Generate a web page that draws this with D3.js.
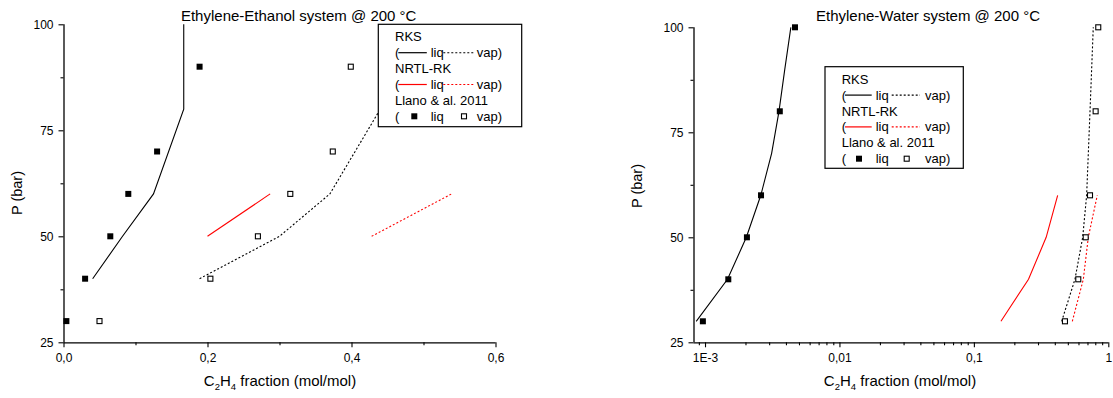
<!DOCTYPE html>
<html>
<head>
<meta charset="utf-8">
<script src="https://cdn.jsdelivr.net/npm/d3@7"></script>
<style>
  html, body { margin: 0; padding: 0; background: #fff; }
  svg { display: block; font-family: "Liberation Sans", Arial, sans-serif; }
</style>
</head>
<body>
<svg id="chart" width="1113" height="398"></svg>
<script>
// ---------- Data: Ethylene-Ethanol @ 200 °C ----------
const eeLiqExpX = [0.004, 0.030, 0.065, 0.090, 0.130, 0.189];
const eeLiqExpP = [30, 40, 50, 60, 70, 90];
const eeVapExpX = [0.050, 0.204, 0.270, 0.315, 0.374, 0.399];
const eeVapExpP = [30, 40, 50, 60, 70, 90];
const eeRksLiqX = [0.0405, 0.082, 0.125, 0.167, 0.167];
const eeRksLiqP = [40, 50, 60, 80, 100];
const eeRksVapX = [0.189, 0.300, 0.370, 0.440];
const eeRksVapP = [40, 50, 60, 80];
const eeNrtlLiqX = [0.200, 0.287];
const eeNrtlLiqP = [50, 60];
const eeNrtlVapX = [0.428, 0.539];
const eeNrtlVapP = [50, 60];

// ---------- Data: Ethylene-Water @ 200 °C ----------
const ewLiqExpX = [0.000964, 0.00149, 0.00205, 0.00261, 0.00360, 0.00467];
const ewLiqExpP = [30, 40, 50, 60, 80, 100];
const ewVapExpX = [0.476, 0.598, 0.679, 0.731, 0.805, 0.842];
const ewVapExpP = [30, 40, 50, 60, 80, 100];
const ewRksLiqX = [0.00086, 0.00147, 0.00203, 0.00260, 0.00313, 0.00355, 0.00392, 0.00435];
const ewRksLiqP = [30, 40, 50, 60, 70, 80, 90, 100];
const ewRksVapX = [0.450, 0.565, 0.645, 0.690, 0.731, 0.773];
const ewRksVapP = [30, 40, 50, 60, 80, 100];
const ewNrtlLiqX = [0.159, 0.255, 0.345, 0.420];
const ewNrtlLiqP = [30, 40, 50, 60];
const ewNrtlVapX = [0.540, 0.652, 0.710, 0.828];
const ewNrtlVapP = [30, 40, 50, 60];

// ---------- Ticks ----------
const yTicks = [25, 50, 75, 100];
const yMinorTicks = [37.5, 62.5, 87.5];
const eeXTicks = [0, 0.2, 0.4, 0.6];
const eeXTickLabels = ["0,0", "0,2", "0,4", "0,6"];
const eeXMinorTicks = [0.1, 0.3, 0.5];
const ewXTicks = [0.001, 0.01, 0.1, 1];
const ewXTickLabels = ["1E-3", "0,01", "0,1", "1"];

const titles = ["Ethylene-Ethanol system @ 200 °C", "Ethylene-Water system @ 200 °C"];
const legendTitles = ["RKS", "NRTL-RK", "Llano & al. 2011"];

const RED = "#ff0000";
const svg = d3.select("#chart");
const zip = (xs, ps) => xs.map((x, i) => [x, ps[i]]);

function drawPanel(cfg) {
  const g = svg.append("g");
  const x = cfg.x, y = cfg.y;
  const [x0] = x.range();
  const [y0] = y.range();

  // data lines
  const line = d3.line().x(d => x(d[0])).y(d => y(d[1]));
  const lines = [
    {d: cfg.rksLiq, c: "#000", dash: null},
    {d: cfg.rksVap, c: "#000", dash: "2,2"},
    {d: cfg.nrtlLiq, c: RED, dash: null},
    {d: cfg.nrtlVap, c: RED, dash: "2,2"}
  ];
  lines.forEach(L => {
    g.append("path").attr("d", line(L.d)).attr("fill", "none")
      .attr("stroke", L.c).attr("stroke-width", 1.1)
      .attr("stroke-dasharray", L.dash);
  });

  // markers
  const s = 6;
  g.selectAll(null).data(cfg.liqExp).join("rect")
    .attr("x", d => x(d[0]) - s / 2).attr("y", d => y(d[1]) - s / 2)
    .attr("width", s).attr("height", s).attr("fill", "#000");
  g.selectAll(null).data(cfg.vapExp).join("rect")
    .attr("x", d => x(d[0]) - s / 2 + 0.5).attr("y", d => y(d[1]) - s / 2 + 0.5)
    .attr("width", s - 1).attr("height", s - 1).attr("fill", "#fff")
    .attr("stroke", "#000").attr("stroke-width", 1.1);

  // axes
  const yAxis = d3.axisLeft(y).tickValues(yTicks).tickSize(5).tickPadding(5)
    .tickFormat(d3.format("d"));
  const ya = g.append("g").attr("transform", `translate(${x0},0)`).call(yAxis);
  const yMin = d3.axisLeft(y).tickValues(yMinorTicks).tickSize(3).tickFormat("");
  const ym = g.append("g").attr("transform", `translate(${x0},0)`).call(yMin);
  ym.select(".domain").remove();

  const xAxis = d3.axisBottom(x).tickValues(cfg.xTicks).tickSize(5).tickPadding(6)
    .tickFormat((d, i) => cfg.xTickLabels[i]);
  const xa = g.append("g").attr("transform", `translate(0,${y0})`).call(xAxis);
  const xMin = d3.axisBottom(x).tickValues(cfg.xMinor).tickSize(3).tickFormat("");
  const xm = g.append("g").attr("transform", `translate(0,${y0})`).call(xMin);
  xm.select(".domain").remove();

  [ya, xa, ym, xm].forEach(a => {
    a.selectAll(".domain").attr("stroke", "#000").attr("stroke-width", 1.3);
    a.selectAll(".tick line").attr("stroke", "#000").attr("stroke-width", 1.1);
    a.selectAll("text").attr("font-size", 12).attr("fill", "#000")
      .attr("font-family", "Liberation Sans, Arial, sans-serif");
  });
  ya.select(".domain").attr("d", `M0.5,${y.range()[1]}V${y0}`);
  xa.select(".domain").attr("d", `M${x0},0.5H${x.range()[1]}`);

  // titles
  g.append("text").attr("x", cfg.titleX).attr("y", 20.5).attr("text-anchor", "middle")
    .attr("font-size", 15).text(cfg.title);
  g.append("text")
    .attr("transform", `translate(${cfg.yTitleX},${cfg.yTitleY}) rotate(-90)`)
    .attr("text-anchor", "middle").attr("dominant-baseline", "central")
    .attr("font-size", 14.5).text("P (bar)");
  const xt = g.append("text").attr("x", cfg.xTitleX).attr("y", 385.5)
    .attr("text-anchor", "middle").attr("font-size", 15);
  xt.append("tspan").text("C");
  xt.append("tspan").attr("font-size", 9.5).attr("dy", 4).text("2");
  xt.append("tspan").attr("dy", -4).text("H");
  xt.append("tspan").attr("font-size", 9.5).attr("dy", 4).text("4");
  xt.append("tspan").attr("dy", -4).text(" fraction (mol/mol)");

  // legend
  const L = cfg.legend;
  const lg = g.append("g").attr("transform", `translate(${L.x},${L.y})`);
  lg.append("rect").attr("x", 0).attr("y", 0).attr("width", L.w).attr("height", L.h)
    .attr("fill", "#fff").attr("stroke", "#000").attr("stroke-width", 1.2);
  const tx = 16.7, row0 = 12.5, dr = 15.9;
  const rowY = i => row0 + i * dr;
  const fs = 13;
  const addText = (xx, i, t) => lg.append("text").attr("x", xx).attr("y", rowY(i) + 4.6)
    .attr("font-size", fs).text(t);
  addText(tx, 0, legendTitles[0]);
  addText(tx, 2, legendTitles[1]);
  addText(tx, 4, legendTitles[2]);
  [[1, "#000"], [3, RED]].forEach(([i, c]) => {
    addText(tx, i, "(");
    lg.append("line").attr("x1", L.l1[0]).attr("x2", L.l1[1]).attr("y1", rowY(i)).attr("y2", rowY(i))
      .attr("stroke", c).attr("stroke-width", 1.2);
    addText(L.liqX, i, "liq");
    lg.append("line").attr("x1", L.l2[0]).attr("x2", L.l2[1]).attr("y1", rowY(i)).attr("y2", rowY(i))
      .attr("stroke", c).attr("stroke-width", 1.1).attr("stroke-dasharray", "2,2");
    addText(L.vapX, i, "vap)");
  });
  addText(tx, 5, "(");
  lg.append("rect").attr("x", L.sq1 - 3).attr("y", rowY(5) - 3).attr("width", 6).attr("height", 6)
    .attr("fill", "#000");
  addText(L.liqX, 5, "liq");
  lg.append("rect").attr("x", L.sq2 - 2.5).attr("y", rowY(5) - 2.5).attr("width", 5).attr("height", 5)
    .attr("fill", "#fff").attr("stroke", "#000").attr("stroke-width", 1.1);
  addText(L.vapX, 5, "vap)");
}

// Left panel
drawPanel({
  x: d3.scaleLinear().domain([0, 0.6]).range([63.5, 495.5]),
  y: d3.scaleLinear().domain([25, 100]).range([342.3, 24.3]),
  xTicks: eeXTicks, xTickLabels: eeXTickLabels, xMinor: eeXMinorTicks,
  liqExp: zip(eeLiqExpX, eeLiqExpP), vapExp: zip(eeVapExpX, eeVapExpP),
  rksLiq: zip(eeRksLiqX, eeRksLiqP), rksVap: zip(eeRksVapX, eeRksVapP),
  nrtlLiq: zip(eeNrtlLiqX, eeNrtlLiqP), nrtlVap: zip(eeNrtlVapX, eeNrtlVapP),
  title: titles[0], titleX: 298.7, xTitleX: 280, yTitleX: 17.3, yTitleY: 193,
  legend: {x: 378.3, y: 24.3, w: 143.4, h: 102.4, l1: [20, 48.5], liqX: 52.4,
           l2: [65, 95], vapX: 98.4, sq1: 36, sq2: 85.7}
});

// Right panel
const ewMinor = [];
[0.0001, 0.001, 0.01, 0.1].forEach(dec => {
  for (let k = 2; k <= 9; k++) ewMinor.push(+(dec * k).toPrecision(3));
});
const xLog = d3.scaleLog().domain([0.000821, 1]).range([693.5, 1108.3]);
drawPanel({
  x: xLog,
  y: d3.scaleLinear().domain([25, 100]).range([342.3, 27.3]),
  xTicks: ewXTicks, xTickLabels: ewXTickLabels,
  xMinor: ewMinor.filter(v => v >= 0.000821 && v <= 1),
  liqExp: zip(ewLiqExpX, ewLiqExpP), vapExp: zip(ewVapExpX, ewVapExpP),
  rksLiq: zip(ewRksLiqX, ewRksLiqP), rksVap: zip(ewRksVapX, ewRksVapP),
  nrtlLiq: zip(ewNrtlLiqX, ewNrtlLiqP), nrtlVap: zip(ewNrtlVapX, ewNrtlVapP),
  title: titles[1], titleX: 928, xTitleX: 900, yTitleX: 636.6, yTitleY: 186,
  legend: {x: 825, y: 66.7, w: 138.3, h: 101.6, l1: [20, 46.7], liqX: 50.7,
           l2: [66.7, 95], vapX: 100, sq1: 34, sq2: 81.7}
});
</script>
</body>
</html>
